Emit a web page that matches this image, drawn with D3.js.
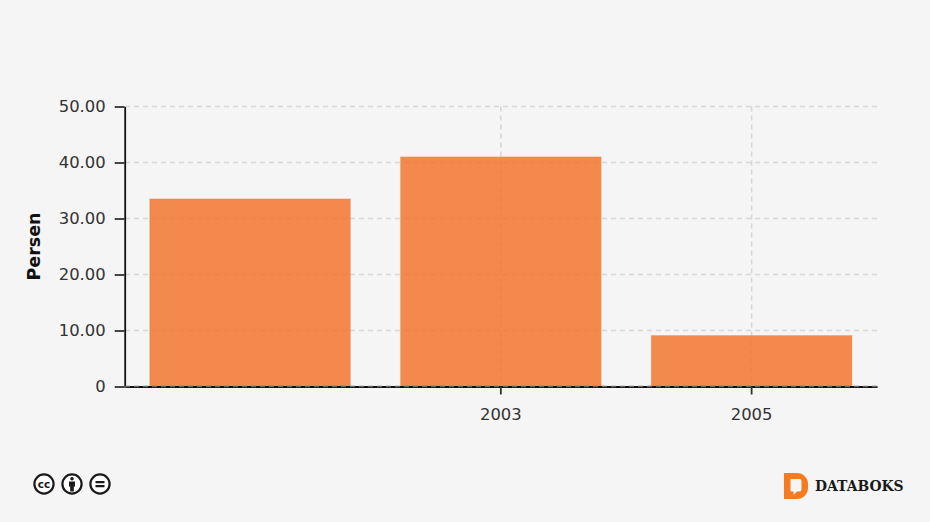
<!DOCTYPE html>
<html><head><meta charset="utf-8">
<script src="https://cdn.jsdelivr.net/npm/d3@7/dist/d3.min.js"></script>
<style>html,body{margin:0;padding:0;background:#f5f5f5}svg{display:block}</style>
</head><body><svg id="c" width="930" height="522"></svg>
<script>
const categories = ["2001", "2003", "2005"];
const tickLabels = ["", "2003", "2005"];
const values = [33.5, 41, 9.1];
const yTicks = [0, 10, 20, 30, 40, 50];
const axisTitle = "Persen";
const font = "'DejaVu Sans', Verdana, sans-serif";

const svg = d3.select("#c");
const x = d3.scaleBand().domain(categories).range([124.7, 877]).paddingInner(0.2).paddingOuter(0.1);
const y = d3.scaleLinear().domain([0, 50]).range([386.5, 106.5]);
const fmt = v => v === 0 ? "0" : d3.format(".2f")(v);
const gridStyle = s => s.attr("stroke", "#d6d6d6").attr("stroke-width", 1.5).attr("stroke-dasharray", "5 4");

// grid
svg.append("g").selectAll("line").data(yTicks.slice(1)).join("line")
  .attr("x1", 125).attr("x2", 877)
  .attr("y1", d => y(d)).attr("y2", d => y(d)).call(gridStyle);
const gridX = categories.filter((c, i) => tickLabels[i] !== "");
svg.append("g").selectAll("line").data(gridX).join("line")
  .attr("x1", d => x(d) + x.bandwidth() / 2).attr("x2", d => x(d) + x.bandwidth() / 2)
  .attr("y1", y(50)).attr("y2", y(0)).call(gridStyle);

// bars
svg.append("g").selectAll("rect").data(values).join("rect")
  .attr("x", (d, i) => x(categories[i])).attr("width", x.bandwidth())
  .attr("y", d => y(d)).attr("height", d => y(0) - y(d))
  .attr("fill", "#f37630").attr("fill-opacity", 0.85)
  .attr("stroke", "#f37630").attr("stroke-opacity", 0.3).attr("stroke-width", 1);

// axes
const yAxis = svg.append("g").attr("transform", "translate(124.7,0)")
  .call(d3.axisLeft(y).tickValues(yTicks).tickFormat(fmt).tickSize(10).tickSizeOuter(0).tickPadding(9));
const xAxis = svg.append("g").attr("transform", "translate(0,386.5)")
  .call(d3.axisBottom(x).tickFormat((d, i) => tickLabels[i]).tickSize(8).tickSizeOuter(0).tickPadding(14));
xAxis.selectAll(".tick").filter((d, i) => tickLabels[i] === "").select("line").remove();
[yAxis, xAxis].forEach(g => {
  g.select(".domain").attr("stroke", "#111").attr("stroke-width", 1.8);
  g.selectAll(".tick line").attr("stroke", "#333").attr("stroke-width", 1.8);
  g.selectAll("text").attr("fill", "#333").style("font-family", font).style("font-size", "16.4px");
});
// dashed zero gridline lying over the x axis
svg.append("g").selectAll("line").data([0]).join("line")
  .attr("x1", 125).attr("x2", 877)
  .attr("y1", d => y(d)).attr("y2", d => y(d))
  .attr("stroke", "#666").attr("stroke-width", 1.5).attr("stroke-dasharray", "5 4");

svg.append("text").attr("transform", "translate(40,246.5) rotate(-90)")
  .attr("text-anchor", "middle").style("font-family", font).style("font-size", "17.5px")
  .style("font-weight", "bold").attr("fill", "#111").text(axisTitle);

// CC badges
const cc = svg.append("g").attr("stroke", "#1a1a1a").attr("fill", "none");
[44, 72, 100].forEach(cx => cc.append("circle").attr("cx", cx).attr("cy", 484).attr("r", 9.6)
  .attr("stroke-width", 2.2).attr("fill", "#fff"));
cc.append("text").attr("x", 44).attr("y", 488).attr("text-anchor", "middle").attr("stroke", "none")
  .attr("fill", "#1a1a1a").style("font-family", font).style("font-weight", "bold").style("font-size", "10.5px").text("cc");
cc.append("circle").attr("cx", 72).attr("cy", 478.8).attr("r", 1.8).attr("fill", "#1a1a1a").attr("stroke", "none");
cc.append("path").attr("d", "M69 481.5h6v5h-1.2v5h-3.6v-5H69z").attr("fill", "#1a1a1a").attr("stroke", "none");
cc.append("path").attr("d", "M95.5 481h9v2.2h-9zM95.5 485h9v2.2h-9z").attr("fill", "#1a1a1a").attr("stroke", "none");

// Databoks mark
svg.append("path").attr("fill-rule", "evenodd").attr("fill", "#f47b20")
  .attr("d", "M784 473h13a11 11 0 0 1 11 11v4a11 11 0 0 1-11 11h-13zM790.5 479v12.5h3l0 3.5 3.5-3.5h2.5a2 2 0 0 0 2-2v-8.5a2 2 0 0 0-2-2z");
svg.append("text").attr("x", 815).attr("y", 491).attr("fill", "#1a1a1a")
  .style("font-family", "'DejaVu Serif', serif").style("font-weight", "bold").style("font-size", "13.9px").text("DATABOKS");
</script></body></html>
